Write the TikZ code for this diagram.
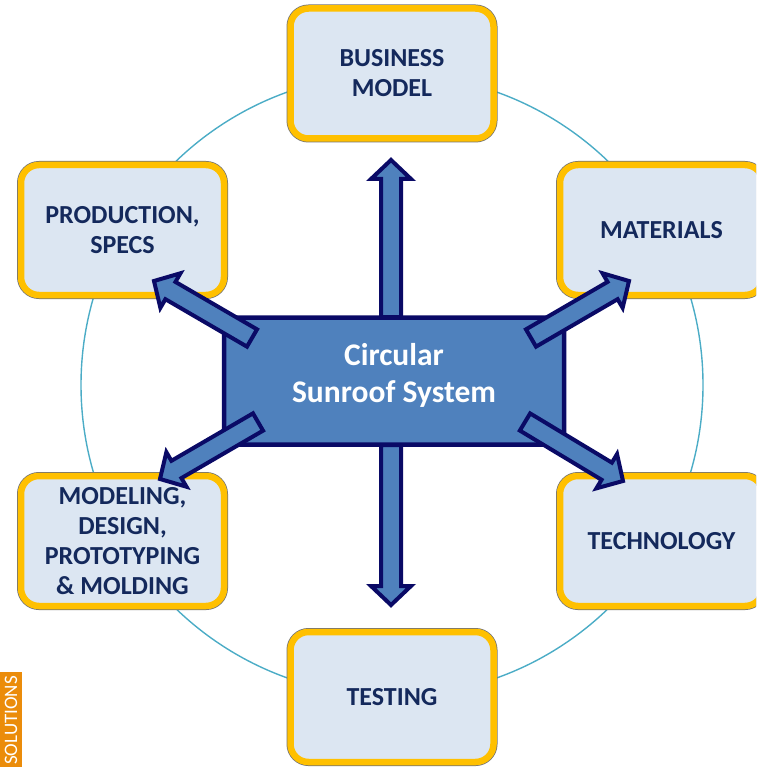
\documentclass[tikz,border=0pt]{standalone}
\usepackage{fontspec}
\setmainfont{Carlito}
\usetikzlibrary{calc,shadows}

\definecolor{ringteal}{HTML}{4BACC6}
\definecolor{boxfill}{HTML}{DCE6F2}
\definecolor{boxgold}{HTML}{FFC000}
\definecolor{labelnavy}{HTML}{14295C}
\definecolor{hubblue}{HTML}{4F81BD}
\definecolor{hubnavy}{HTML}{0A0A66}
\definecolor{taborange}{HTML}{EB8C0A}

\tikzset{
  ring/.style={draw=ringteal, line width=1.4pt},
  box/.style={rectangle, rounded corners=18pt, fill=boxfill, draw=boxgold,
    line width=6.5pt, minimum width=203pt, minimum height=130pt,
    preaction={draw=black!55, line width=8pt},
    drop shadow={shadow xshift=1pt, shadow yshift=-3pt, opacity=.25},
    align=center, text=labelnavy,
    font=\bfseries\fontsize{26}{30}\selectfont},
  hub/.style={rectangle, rounded corners=6pt, fill=hubblue, draw=hubnavy,
    line width=4.5pt, minimum width=340pt, minimum height=127pt,
    align=center, text=white, text depth=16pt,
    font=\bfseries\fontsize{31.5}{37}\selectfont},
  barrow/.style={fill=hubblue, draw=hubnavy, line width=4pt, line join=miter},
}

% block arrow from #1 to #2
\newcommand{\blockarrow}[2]{%
  \path (#2) coordinate (ba-t) ($(#2)!19pt!(#1)$) coordinate (ba-h);
  \draw[barrow] ($(#1)!10pt!90:(ba-t)$) -- ($(ba-h)!10pt!90:(ba-t)$)
    -- ($(ba-h)!20pt!90:(ba-t)$) -- (ba-t) -- ($(ba-h)!20pt!-90:(ba-t)$)
    -- ($(ba-h)!10pt!-90:(ba-t)$) -- ($(#1)!10pt!-90:(ba-t)$) -- cycle;
}

\begin{document}
\begin{tikzpicture}[x=1pt,y=-1pt]
  \useasboundingbox (0,0) rectangle (756,767);
  \clip (0,0) rectangle (756,767);
  \draw[ring] (392,385) circle (311);
  \path
    (392,73.5) node[box] (biz) {BUSINESS\\MODEL}
    (122.5,230) node[box] (prod) {PRODUCTION,\\SPECS}
    (661.5,230) node[box] (mat) {MATERIALS}
    (122.5,541) node[box] (model) {MODELING,\\DESIGN,\\PROTOTYPING\\\& MOLDING}
    (661.5,541) node[box] (tech) {TECHNOLOGY}
    (392,697) node[box] (test) {TESTING};
  \node[hub] (sys) at (394,381) {Circular\\Sunroof System};
  % arrow ends
  \path
    (391,317) coordinate (up-s)
    (391,160) coordinate (up-t)
    (391,445) coordinate (dn-s)
    (391,605) coordinate (dn-t)
    (252,338) coordinate (ul-s)
    (154,281) coordinate (ul-t)
    (531,338) coordinate (ur-s)
    (629,281) coordinate (ur-t)
    (258,422) coordinate (ll-s)
    (160,479) coordinate (ll-t)
    (525,422) coordinate (lr-s)
    (623,481) coordinate (lr-t);
  \begin{scope}
    \blockarrow{up-s}{up-t}
    \blockarrow{dn-s}{dn-t}
    \blockarrow{ul-s}{ul-t}
    \blockarrow{ur-s}{ur-t}
    \blockarrow{ll-s}{ll-t}
    \blockarrow{lr-s}{lr-t}
  \end{scope}
  \fill[taborange] (0,672) rectangle (22,790);
  \node[rotate=90, anchor=west, inner sep=0pt, text=white,
    font=\fontsize{19}{23}\selectfont] (tab) at (11,765) {SOLUTIONS};
\end{tikzpicture}
\end{document}
